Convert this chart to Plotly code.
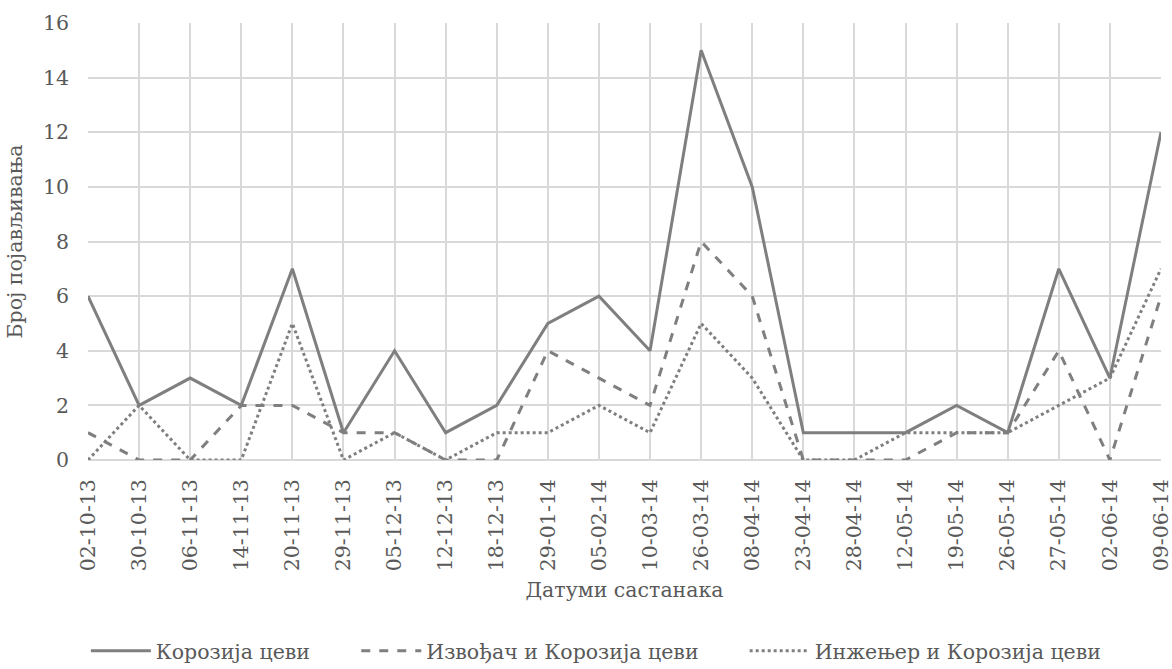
import plotly.graph_objects as go

dates = ["02-10-13", "30-10-13", "06-11-13", "14-11-13", "20-11-13", "29-11-13",
         "05-12-13", "12-12-13", "18-12-13", "29-01-14", "05-02-14", "10-03-14",
         "26-03-14", "08-04-14", "23-04-14", "28-04-14", "12-05-14", "19-05-14",
         "26-05-14", "27-05-14", "02-06-14", "09-06-14"]

korozija = [6, 2, 3, 2, 7, 1, 4, 1, 2, 5, 6, 4, 15, 10, 1, 1, 1, 2, 1, 7, 3, 12]
izvodjac = [1, 0, 0, 2, 2, 1, 1, 0, 0, 4, 3, 2, 8, 6, 0, 0, 0, 1, 1, 4, 0, 6]
inzenjer = [0, 2, 0, 0, 5, 0, 1, 0, 1, 1, 2, 1, 5, 3, 0, 0, 1, 1, 1, 2, 3, 7]

series_names = ["Корозија цеви", "Извођач и Корозија цеви", "Инжењер и Корозија цеви"]

LINE = "#7f7f7f"
TEXT = "#595959"
GRID = "#d9d9d9"
FONT = "DejaVu Serif"
FS = 20.5

# one legend box per series so each entry can sit at its own spot
legend_ids = ["legend", "legend2", "legend3"]
legend_x = [-0.002, 0.25, 0.612]

fig = go.Figure()
for name, vals, dash, lid in zip(series_names, [korozija, izvodjac, inzenjer],
                                 ["solid", "dash", "dot"], legend_ids):
    fig.add_trace(go.Scatter(
        x=dates, y=vals, name=name, mode="lines", legend=lid,
        line=dict(color=LINE, width=3, dash=dash),
    ))

legend_common = dict(
    orientation="h", xanchor="left", y=-0.437, yanchor="middle",
    font=dict(family=FONT, size=FS, color=TEXT),
    itemwidth=60, bgcolor="rgba(0,0,0,0)",
)

fig.update_layout(
    width=1172, height=669,
    margin=dict(l=88, r=11, t=23, b=209, autoexpand=False),
    paper_bgcolor="white", plot_bgcolor="white",
    font=dict(family=FONT, size=FS, color=TEXT),
    showlegend=True,
    legend=dict(x=legend_x[0], **legend_common),
    legend2=dict(x=legend_x[1], **legend_common),
    legend3=dict(x=legend_x[2], **legend_common),
)

fig.update_xaxes(
    type="category", range=[0, len(dates) - 1], automargin=False,
    showgrid=True, gridcolor=GRID, gridwidth=2,
    showline=False, zeroline=False,
    tickangle=-90, ticks="", ticklabelstandoff=14,
    tickfont=dict(family=FONT, size=FS, color=TEXT),
    title=dict(text="Датуми састанака", standoff=12,
               font=dict(family=FONT, size=FS, color=TEXT)),
)

fig.update_yaxes(
    range=[0, 16], dtick=2, automargin=False,
    showgrid=True, gridcolor=GRID, gridwidth=2,
    showline=False, zeroline=True, zerolinecolor=GRID, zerolinewidth=2,
    ticks="", ticklabelstandoff=18,
    tickfont=dict(family=FONT, size=FS, color=TEXT),
    title=dict(text="Број појављивања", standoff=14,
               font=dict(family=FONT, size=FS, color=TEXT)),
)

fig.write_html("out.html")
